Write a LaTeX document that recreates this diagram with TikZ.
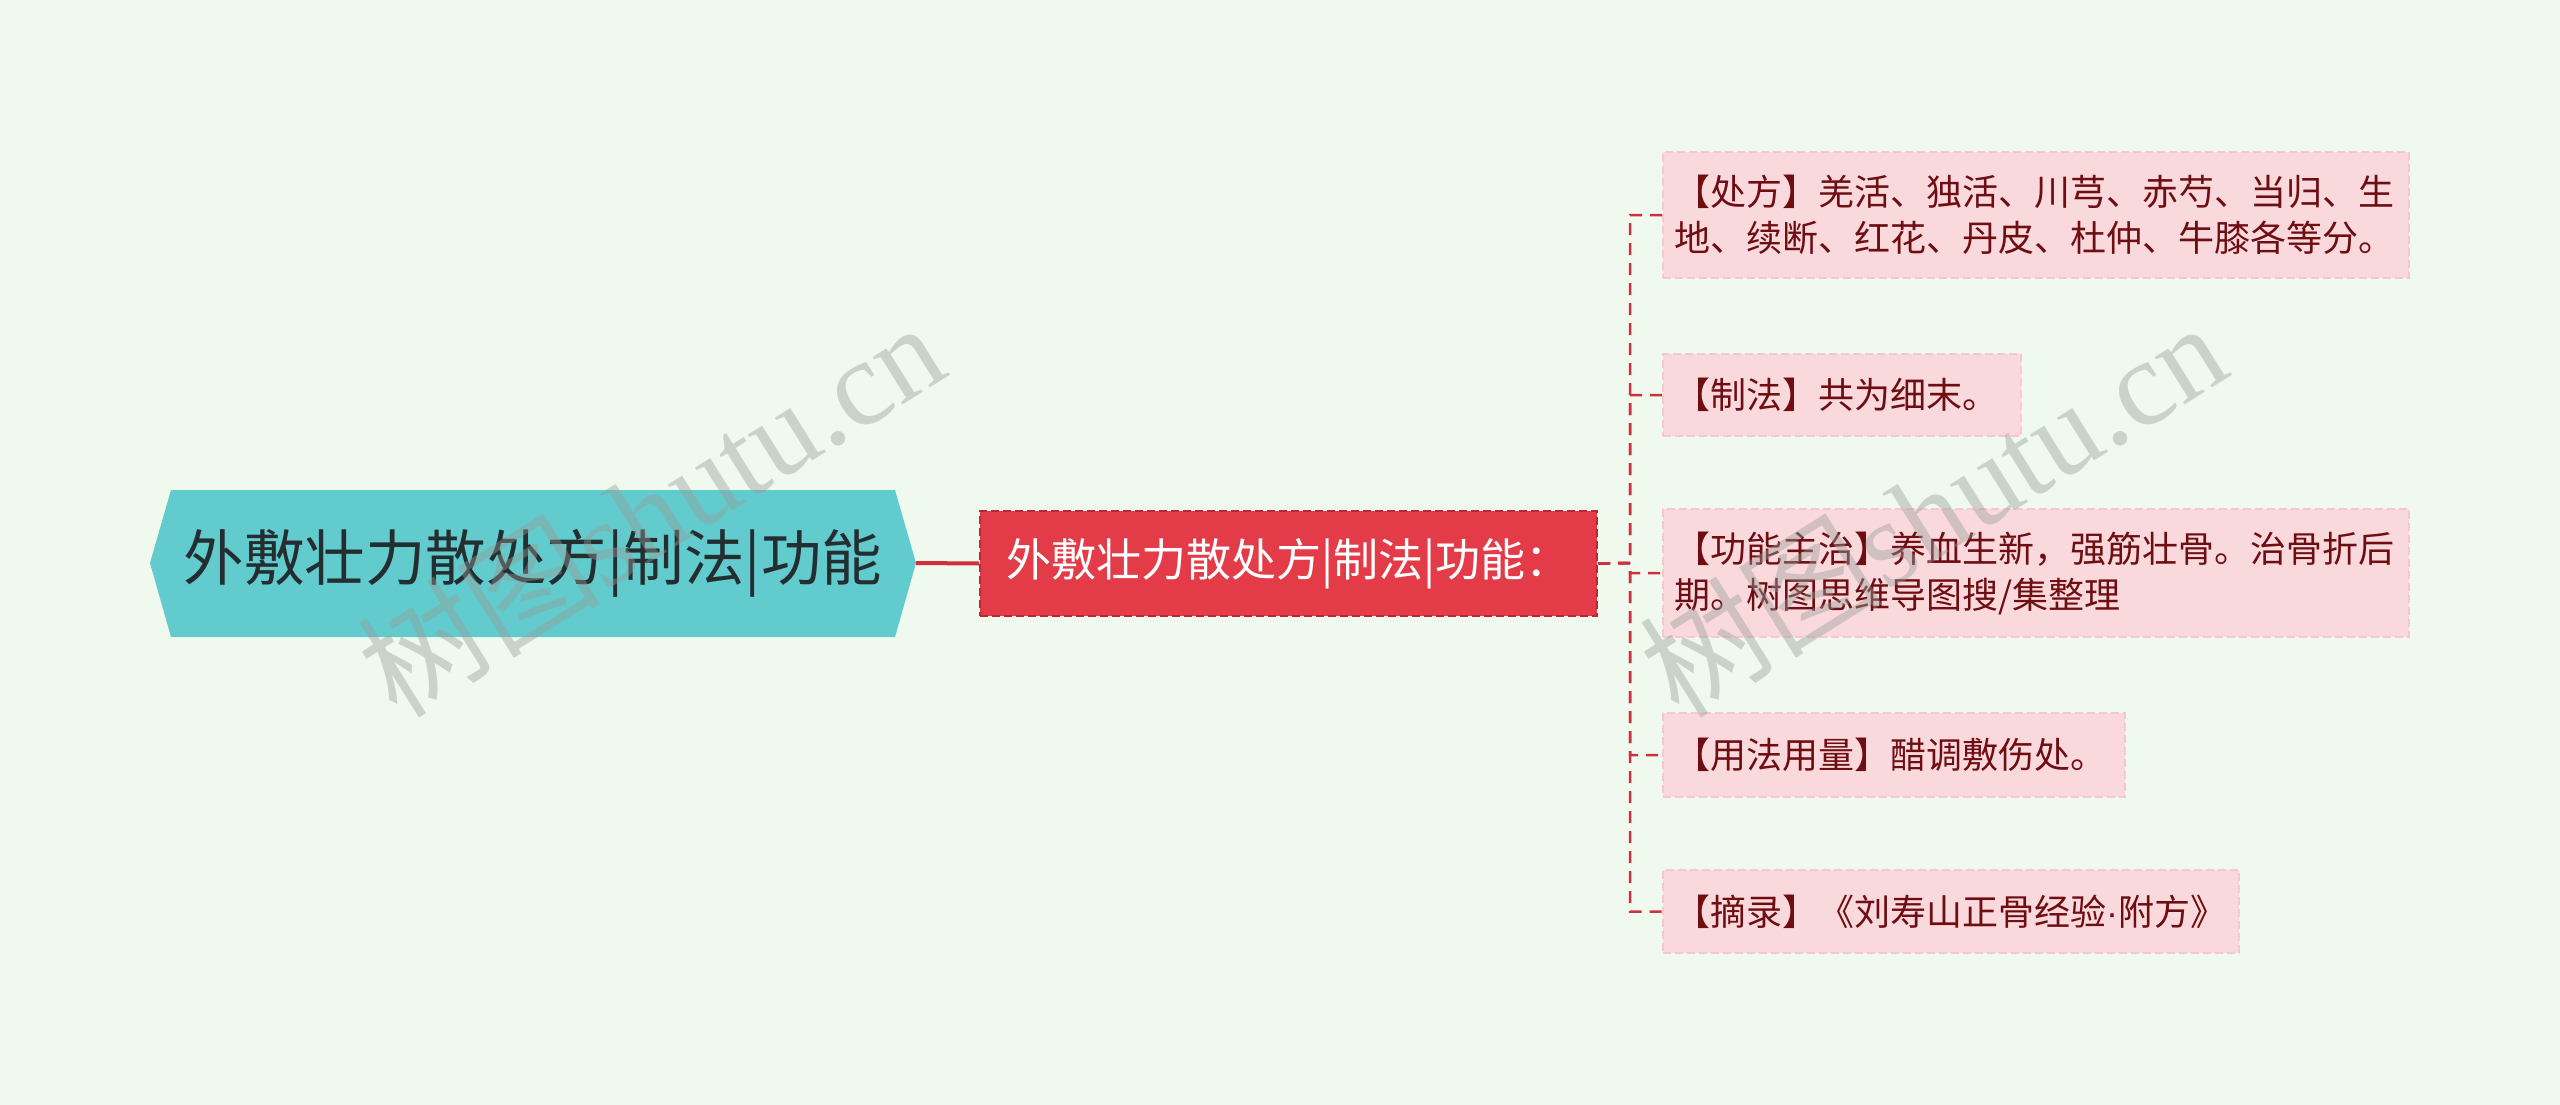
\documentclass[tikz,border=0pt]{standalone}
\usepackage{fontspec}
\setmainfont{Noto Sans CJK SC}
\newfontfamily\cjkfont{Noto Sans CJK SC}
\newfontfamily\wmserif{Liberation Serif}
\newfontfamily\dotfont{Liberation Sans}
\definecolor{bgc}{RGB}{240,249,238}
\definecolor{rootfill}{RGB}{98,203,206}
\definecolor{roottxt}{RGB}{36,46,48}
\definecolor{mainfill}{RGB}{227,60,72}
\definecolor{mainborder}{RGB}{185,40,52}
\definecolor{leaffill}{RGB}{250,217,221}
\definecolor{leafborder}{RGB}{246,200,206}
\definecolor{leaftxt}{RGB}{110,13,18}
\definecolor{linkc}{RGB}{208,48,61}
\definecolor{wmc}{RGB}{150,158,152}
\begin{document}
\begin{tikzpicture}[x=1pt,y=-1pt,
  roottext/.style={inner sep=0pt, text=roottxt, font=\fontsize{60.5}{70}\selectfont},
  mainbox/.style={fill=mainfill, draw=mainborder, line width=2pt, dash pattern=on 8pt off 4pt,
     text=white, font=\fontsize{45}{52}\selectfont, inner sep=0pt},
  leafbox/.style={fill=leaffill, draw=leafborder, line width=2pt, dash pattern=on 8pt off 4pt,
     text=leaftxt, font=\fontsize{36}{46}\selectfont, inner xsep=11pt, inner ysep=0pt,
     align=left, anchor=west},
  mainlink/.style={draw=linkc, line width=4pt},
  sublink/.style={draw=linkc, line width=2.5pt, dash pattern=on 12pt off 8pt},
  wm/.style={text=wmc, opacity=0.42, font=\fontsize{122}{130}\selectfont}
]
\fill[bgc] (0,0) rectangle (2560,1105);
\useasboundingbox (0,0) rectangle (2560,1105);

% root hexagon
\fill[rootfill] (150,563) -- (171,490) -- (895,490) -- (916,563) -- (895,637) -- (171,637) -- cycle;
\node[roottext, minimum width=766pt, minimum height=147pt] (root) at (533,563) {外敷壮力散处方|制法|功能};

% main node
\node[mainbox, minimum width=617pt, minimum height=105pt] (main) at (1288.5,563.5) {外敷壮力散处方|制法|功能：};

% leaves
\node[leafbox, text width=724pt, minimum height=126pt] (leaf1) at (1662,215)
  {【处方】羌活、独活、川芎、赤芍、当归、生\\地、续断、红花、丹皮、杜仲、牛膝各等分。};
\node[leafbox, text width=336pt, minimum height=82pt] (leaf2) at (1662,395)
  {【制法】共为细末。};
\node[leafbox, text width=724pt, minimum height=128pt] (leaf3) at (1662,573)
  {【功能主治】养血生新，强筋壮骨。治骨折后\\期。树图思维导图搜/集整理};
\node[leafbox, text width=440pt, minimum height=84pt] (leaf4) at (1662,755)
  {【用法用量】醋调敷伤处。};
\node[leafbox, text width=554pt, minimum height=83pt] (leaf5) at (1662,911.5)
  {【摘录】《刘寿山正骨经验{\dotfont ·}附方》};

% connectors
\coordinate (trunk) at (1630,563);
\draw[mainlink] (root.east) -- (main.west);
\foreach \l in {leaf1,leaf2,leaf3,leaf4,leaf5}
  \draw[sublink] (main.east) -- (trunk) |- (\l.west);

% watermarks
\node[wm, rotate=32] (wm1) at (650,508) {树图{\wmserif shutu.cn}};
\node[wm, rotate=32] (wm2) at (1932,508) {树图{\wmserif shutu.cn}};
\end{tikzpicture}
\end{document}
